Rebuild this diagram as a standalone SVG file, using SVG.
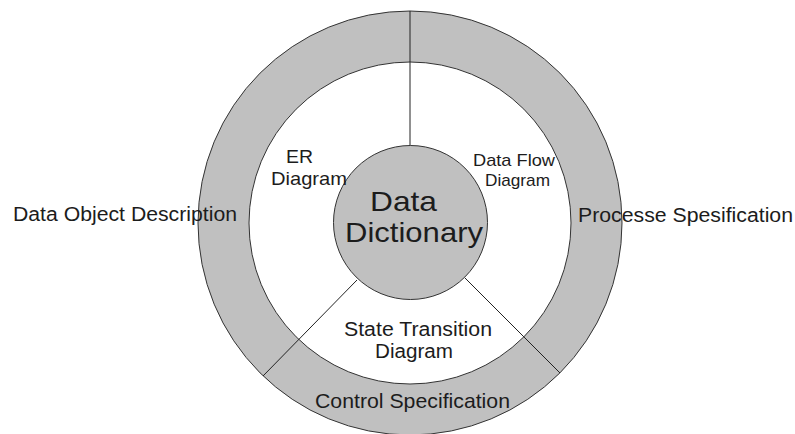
<svg xmlns="http://www.w3.org/2000/svg" width="795" height="434" viewBox="0 0 795 434">
  <style>
    .ring { fill: #c0c0c0; stroke: #333333; stroke-width: 1; }
    .inner { fill: #ffffff; stroke: #333333; stroke-width: 1; }
    .core { fill: #c0c0c0; stroke: #333333; stroke-width: 1; }
    .divider { stroke: #222222; stroke-width: 1; fill: none; }
    text { font-family: "Liberation Sans", Arial, sans-serif; fill: #1c1c1c; }
  </style>

  <rect width="795" height="434" fill="#ffffff"/>

  <!-- base discs: outer grey band, white middle area -->
  <g id="rings">
    <circle class="ring" cx="410" cy="223" r="212"/>
    <circle class="inner" cx="410" cy="223" r="161"/>
  </g>

  <!-- radial dividers between the three sectors -->
  <g id="connectors">
    <line class="divider" x1="410" y1="11" x2="410" y2="146"/>
    <line class="divider" x1="357" y1="280" x2="263" y2="376"/>
    <line class="divider" x1="465" y1="278" x2="560" y2="373"/>
  </g>

  <g id="data-dictionary">
    <circle class="core" cx="410.5" cy="222.5" r="77"/>
    <text x="370" y="211" font-size="28" textLength="67" lengthAdjust="spacingAndGlyphs">Data</text>
    <text x="345" y="242" font-size="28" textLength="138" lengthAdjust="spacingAndGlyphs">Dictionary</text>
  </g>

  <g id="er-diagram">
    <text x="286" y="163" font-size="19" textLength="27" lengthAdjust="spacingAndGlyphs">ER</text>
    <text x="271" y="185" font-size="19" textLength="76" lengthAdjust="spacingAndGlyphs">Diagram</text>
  </g>

  <g id="data-flow-diagram">
    <text x="473" y="166" font-size="17" textLength="82" lengthAdjust="spacingAndGlyphs">Data Flow</text>
    <text x="485" y="186" font-size="17" textLength="65" lengthAdjust="spacingAndGlyphs">Diagram</text>
  </g>

  <g id="state-transition-diagram">
    <text x="344" y="336" font-size="20" textLength="148" lengthAdjust="spacingAndGlyphs">State Transition</text>
    <text x="375" y="358" font-size="20" textLength="78" lengthAdjust="spacingAndGlyphs">Diagram</text>
  </g>

  <g id="data-object-description">
    <text x="13" y="221" font-size="20" textLength="224" lengthAdjust="spacingAndGlyphs">Data Object Description</text>
  </g>

  <g id="process-specification">
    <text x="578" y="222" font-size="20" textLength="215" lengthAdjust="spacingAndGlyphs">Processe Spesification</text>
  </g>

  <g id="control-specification">
    <text x="315" y="408" font-size="21" textLength="195" lengthAdjust="spacingAndGlyphs">Control Specification</text>
  </g>
</svg>
